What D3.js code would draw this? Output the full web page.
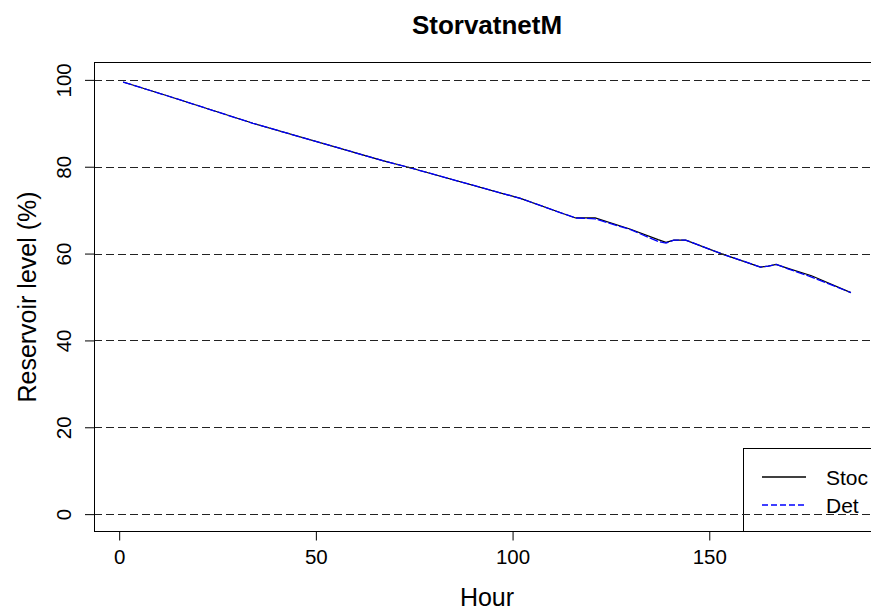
<!DOCTYPE html>
<html>
<head>
<meta charset="utf-8">
<script src="https://cdn.jsdelivr.net/npm/d3@7/dist/d3.min.js"></script>
<style>
  html, body { margin: 0; padding: 0; background: #fff; }
  svg { display: block; font-family: "Liberation Sans", Arial, sans-serif; }
</style>
</head>
<body>
<svg id="chart" width="871" height="610"></svg>
<script>
// Reservoir level over the planning horizon (hourly), deterministic vs stochastic run
const hours   = [1, 12, 34, 67, 73, 102, 111, 116, 121, 130, 137, 139, 141, 144, 153, 163, 165, 167, 170, 176, 186];
const detLevel  = [99.5, 96.4, 90.0, 81.4, 80.0, 72.7, 69.8, 68.2, 68.0, 65.5, 62.8, 62.4, 63.1, 63.1, 60.0, 56.9, 57.1, 57.5, 56.5, 54.6, 51.0];
const stocLevel = [99.5, 96.4, 90.0, 81.4, 80.0, 72.7, 69.8, 68.2, 68.2, 65.6, 63.2, 62.6, 63.1, 63.1, 60.0, 56.9, 57.1, 57.5, 56.6, 54.9, 51.0];

const yTicks = [0, 20, 40, 60, 80, 100];
const xTicks = [0, 50, 100, 150];
const gridLevels = [0, 20, 40, 60, 80, 100];
const legendLabels = ["Stoc", "Det"];

const svg = d3.select("#chart");

// plot region (extends past the right edge of the page)
const plotL = 94, plotR = 880, plotT = 62.5, plotB = 531.5;

// R-style 4% padding on both axes
const xPad = (d3.max(hours) - d3.min(hours)) * 0.04;
const x = d3.scaleLinear()
  .domain([d3.min(hours) - xPad, d3.max(hours) + xPad])
  .range([plotL, plotR]);
const y = d3.scaleLinear()
  .domain([-4, 104])
  .range([plotB, plotT]);

// title
svg.append("text")
  .attr("x", (plotL + plotR) / 2).attr("y", 34)
  .attr("text-anchor", "middle")
  .attr("font-size", 26).attr("font-weight", "bold")
  .text("StorvatnetM");

// x axis
const xAxis = svg.append("g")
  .attr("transform", `translate(0,${plotB})`)
  .call(d3.axisBottom(x).tickValues(xTicks).tickSize(9).tickPadding(9).tickFormat(d3.format("d")));
xAxis.select(".domain").remove();
xAxis.selectAll("text").attr("font-size", 20.5).attr("font-family", "Liberation Sans, Arial, sans-serif").attr("fill", "#000");
xAxis.selectAll("line").attr("stroke", "#000");

// y axis
const yAxis = svg.append("g")
  .attr("transform", `translate(${plotL},0)`)
  .call(d3.axisLeft(y).tickValues(yTicks).tickSize(9).tickFormat(d3.format("d")));
yAxis.select(".domain").remove();
yAxis.selectAll("line").attr("stroke", "#000");
yAxis.selectAll("text")
  .attr("font-size", 20.5).attr("font-family", "Liberation Sans, Arial, sans-serif").attr("fill", "#000")
  .attr("x", null).attr("dy", null)
  .attr("text-anchor", "middle")
  .attr("dominant-baseline", "central")
  .attr("transform", "translate(-31,0) rotate(-90)");

// axis titles
svg.append("text")
  .attr("x", (plotL + plotR) / 2).attr("y", 606)
  .attr("text-anchor", "middle").attr("font-size", 25)
  .text("Hour");
svg.append("text")
  .attr("transform", `translate(27,${(plotT + plotB) / 2}) rotate(-90)`)
  .attr("text-anchor", "middle").attr("dominant-baseline", "central")
  .attr("font-size", 25)
  .text("Reservoir level (%)");

// series
const line = d3.line().x((d, i) => x(hours[i])).y(d => y(d));
svg.append("path")
  .datum(stocLevel)
  .attr("d", line)
  .attr("fill", "none").attr("stroke", "#000").attr("stroke-width", 1.2);
svg.append("path")
  .datum(detLevel)
  .attr("d", line)
  .attr("fill", "none").attr("stroke", "#0000ff").attr("stroke-width", 1.3)
  .attr("stroke-dasharray", "9,2");

// legend (bottom right, clipped by page edge)
const lg = svg.append("g");
lg.append("rect")
  .attr("x", 743.5).attr("y", 448.5).attr("width", 200).attr("height", plotB - 448.5)
  .attr("fill", "none").attr("stroke", "#000");
const legendStyles = [{ stroke: "#000", dash: null }, { stroke: "#0000ff", dash: "6,3" }];
legendLabels.forEach((lab, i) => {
  const cy = 477 + i * 28;
  lg.append("line")
    .attr("x1", 762).attr("x2", 806).attr("y1", cy).attr("y2", cy)
    .attr("stroke", legendStyles[i].stroke).attr("stroke-width", 1.5)
    .attr("stroke-dasharray", legendStyles[i].dash);
  lg.append("text")
    .attr("x", 826).attr("y", cy).attr("dominant-baseline", "central")
    .attr("font-size", 21)
    .text(lab);
});

// horizontal reference lines
svg.append("g").selectAll("line")
  .data(gridLevels).join("line")
  .attr("x1", plotL).attr("x2", plotR)
  .attr("y1", d => Math.round(y(d)) + 0.5).attr("y2", d => Math.round(y(d)) + 0.5)
  .attr("stroke", "#222").attr("stroke-width", 1.2)
  .attr("stroke-dasharray", "8,4");

// plot box
svg.append("rect")
  .attr("x", plotL + 0.5).attr("y", plotT).attr("width", plotR - plotL).attr("height", plotB - plotT)
  .attr("fill", "none").attr("stroke", "#000").attr("stroke-width", 1);
</script>
</body>
</html>
